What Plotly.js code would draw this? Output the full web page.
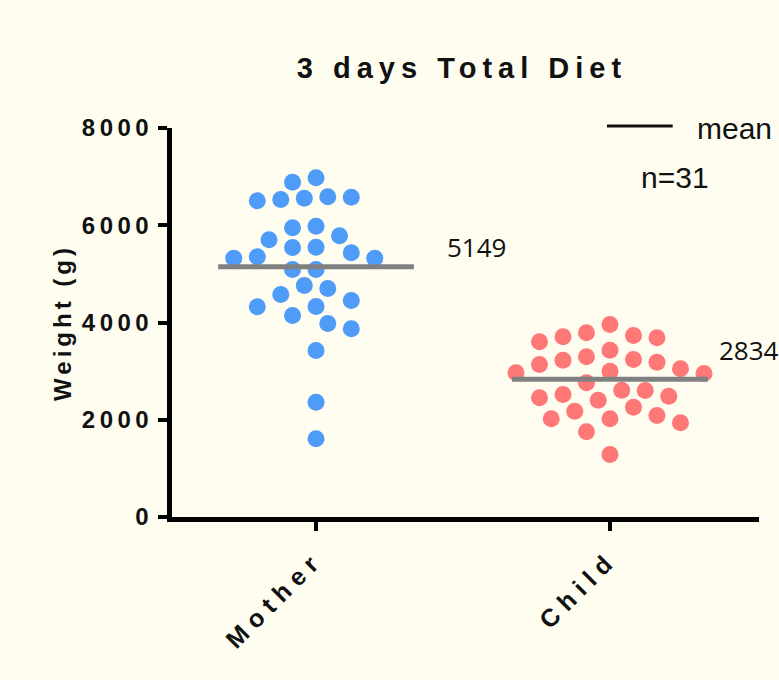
<!DOCTYPE html>
<html><head><meta charset="utf-8">
<script src="https://cdn.plot.ly/plotly-3.0.1.min.js"></script>
<style>
html,body{margin:0;padding:0;background:#FFFDF0;}
#chart{width:779px;height:680px;}
#chart .ytick text{letter-spacing:4.5px;}
#chart .xtick text{letter-spacing:7px;}
#chart .gtitle{letter-spacing:6px;}
#chart .ytitle{letter-spacing:4px;}
</style></head><body><div id="chart"></div>
<script>
// ---- data ----
const categories = ['Mother', 'Child'];
const motherWeights = [6976, 6885, 6585, 6577, 6556, 6530, 6503, 5981, 5948, 5783, 5701, 5549, 5543, 5434, 5351, 5322, 5322, 5090, 5090, 4761, 4699, 4576, 4453, 4329, 4323, 4144, 3980, 3871, 3424, 2361, 1608];
const childWeights = [3959, 3788, 3733, 3706, 3685, 3603, 3430, 3295, 3239, 3225, 3184, 3136, 3048, 2999, 2966, 2951, 2760, 2608, 2602, 2519, 2484, 2451, 2402, 2258, 2176, 2087, 2020, 2020, 1937, 1752, 1285];
const meanValues = [5149, 2834];
const meanLabels = ['5149', '2834'];
const yTickValues = [0, 2000, 4000, 6000, 8000];
const yTickLabels = ['0', '2000', '4000', '6000', '8000'];
const titleText = '3 days Total Diet';
const yAxisTitle = 'Weight (g)';
const legendLabel = 'mean';

// ---- layout geometry ----
const W = 779, H = 680, M = {l: 172, r: 20, t: 128, b: 163};
const plotW = W - M.l - M.r, plotH = H - M.t - M.b;
const xRange = [-0.49, 1.507], yRange = [0, 8000];
const pxPerX = plotW / (xRange[1] - xRange[0]);
const pxPerY = plotH / (yRange[1] - yRange[0]);

// simple beeswarm: spread points horizontally so markers don't overlap
function swarm(values, stepPx, minDist) {
  const order = values.map((v, i) => i).sort((a, b) => values[b] - values[a]);
  const placed = [];
  const offs = new Array(values.length).fill(0);
  for (const i of order) {
    const py = values[i] * pxPerY;
    for (let k = 0; k < 60; k++) {
      const n = k === 0 ? 0 : (k % 2 ? -Math.ceil(k / 2) : k / 2);
      const cx = n * stepPx;
      if (placed.every(p => Math.hypot(p.x - cx, p.y - py) >= minDist)) {
        offs[i] = cx / pxPerX;
        placed.push({x: cx, y: py});
        break;
      }
    }
  }
  return offs;
}

const groups = [motherWeights, childWeights];
const colors = ['#4F9BF8', '#FF7878'];
const traces = [];
groups.forEach((vals, gi) => {
  const offs = swarm(vals, 11.75, 19.5);
  traces.push({
    type: 'scatter', mode: 'markers', name: categories[gi],
    x: vals.map((v, i) => gi + offs[i]), y: vals,
    marker: {color: colors[gi], size: 17, line: {width: 0}},
    hoverinfo: 'y', showlegend: false, cliponaxis: false
  });
});
meanValues.forEach((m, gi) => {
  traces.push({
    type: 'scatter', mode: 'lines',
    x: [gi - 0.333, gi + 0.333], y: [m, m],
    line: {color: '#808080', width: 5},
    showlegend: false, hoverinfo: 'skip'
  });
});

const labelDx = [0.44, 0.364], labelShift = [20, 29];
const annotations = meanLabels.map((t, gi) => ({
  x: gi + labelDx[gi], y: meanValues[gi], xref: 'x', yref: 'y',
  xanchor: 'left', yanchor: 'middle', yshift: labelShift[gi],
  text: t, showarrow: false,
  font: {family: 'Open Sans, sans-serif', size: 26, color: '#111'}
}));
annotations.push({
  x: 0.891, y: 1.0, xref: 'paper', yref: 'paper', xanchor: 'left', yanchor: 'middle',
  text: legendLabel, showarrow: false,
  font: {family: 'Liberation Sans, Arial, sans-serif', size: 30, color: '#111'}
});
annotations.push({
  x: 0.857, y: 0.874, xref: 'paper', yref: 'paper', xanchor: 'center', yanchor: 'middle',
  text: 'n=' + motherWeights.length, showarrow: false,
  font: {family: 'Liberation Sans, Arial, sans-serif', size: 30, color: '#111'}
});

const boldFont = (s) => ({family: 'Liberation Sans, Arial, sans-serif', size: s, color: '#111', weight: 'bold'});

const layout = {
  width: W, height: H, margin: M,
  paper_bgcolor: '#FFFDF0', plot_bgcolor: '#FFFDF0',
  showlegend: false,
  title: {text: titleText, font: boldFont(29), x: 0.494, xref: 'paper', xanchor: 'center',
          y: 1 - 68 / H, yref: 'container', yanchor: 'middle'},
  xaxis: {
    range: xRange, tickvals: [0, 1], ticktext: categories, tickangle: -45,
    showgrid: false, zeroline: false, showline: true, linecolor: '#000', linewidth: 5,
    ticks: 'outside', ticklen: 9, tickwidth: 4, tickcolor: '#000', ticklabelstandoff: 4,
    tickfont: boldFont(25), fixedrange: true
  },
  yaxis: {
    range: yRange, tickvals: yTickValues, ticktext: yTickLabels,
    showgrid: false, zeroline: false, showline: true, linecolor: '#000', linewidth: 5,
    ticks: 'outside', ticklen: 9, tickwidth: 4, tickcolor: '#000',
    tickfont: boldFont(24), fixedrange: true,
    title: {text: yAxisTitle, font: boldFont(24), standoff: 23}
  },
  shapes: [{type: 'line', xref: 'paper', yref: 'paper', x0: 0.741, x1: 0.853, y0: 1.005, y1: 1.005,
            line: {color: '#111', width: 3}}],
  annotations: annotations
};

Plotly.newPlot('chart', traces, layout, {displayModeBar: false, staticPlot: true});
</script></body></html>
